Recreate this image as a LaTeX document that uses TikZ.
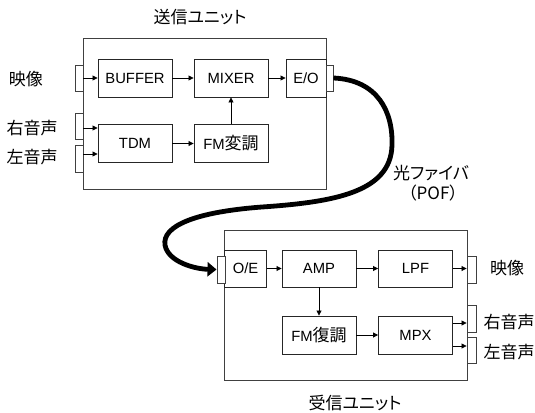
\documentclass[tikz,border=0pt]{standalone}
\usepackage{fontspec}
\setmainfont{Liberation Sans}
\newfontfamily\jp[RawFeature=+palt]{Noto Sans CJK JP}
\usetikzlibrary{arrows.meta,calc}
\newcommand\jpt[1]{{\jp\fontsize{17}{19}\selectfont #1}}
\tikzset{
  unitbox/.style={draw=black!75, line width=0.9pt, inner sep=0pt},
  blockbox/.style={draw=black!85, line width=0.9pt, minimum width=74pt, minimum height=38pt, inner sep=0pt, font=\fontsize{14.8}{16}\selectfont},
  jack/.style={draw=black!75, fill=white, line width=0.9pt, minimum width=8pt, minimum height=26pt, inner sep=0pt},
  lbl/.style={font=\jp\fontsize{17}{19}\selectfont, inner sep=0pt},
  sig/.style={draw=black, line width=0.8pt, -{Triangle[length=5pt,width=5pt]}},
  fiber/.style={draw=black, line width=4.8pt, -{Triangle[length=9pt,width=14pt]}},
}
\begin{document}
\begin{tikzpicture}[x=1pt,y=-1pt]
\useasboundingbox (0,0) rectangle (535,412);

% ---- transmitter unit ----
\node[unitbox, minimum width=243pt, minimum height=151pt] (tx) at (204.5,113.5) {};
\node[lbl] (txtitle) at (200,17) {送信ユニット};

\node[blockbox] (buf) at (135,78) {BUFFER};
\node[blockbox] (mix) at (231,78) {MIXER};
\node[blockbox, minimum width=40pt] (eo) at (306,78) {E/O};
\node[blockbox] (tdm) at (135,143.5) {TDM};
\node[blockbox] (fmmod) at (231,143.5) {FM\jpt{変調}};

\node[jack] (vin) at (79,78) {};
\node[jack, minimum width=7pt] (eoj) at (329.5,78) {};
\node[jack] (rin) at (79,126) {};
\node[jack, minimum height=27pt] (lin) at (79,158.5) {};

\node[lbl] (vinl) at (26,79) {映像};
\node[lbl] (rinl) at (32,128) {右音声};
\node[lbl] (linl) at (32,157) {左音声};

\draw[sig] (vin.east) -- (buf.west);
\draw[sig] (buf.east) -- (mix.west);
\draw[sig] (mix.east) -- (eo.west);
\draw[sig] ($(rin.east)+(0,2)$) -- ($(tdm.west)+(0,-15.5)$);
\draw[sig] ($(lin.east)+(0,-4.5)$) -- ($(tdm.west)+(0,10.5)$);
\draw[sig] (tdm.east) -- (fmmod.west);
\draw[sig] (fmmod.north) -- (mix.south);

% ---- receiver unit ----
\node[unitbox, minimum width=243pt, minimum height=150pt] (rx) at (345.5,305) {};
\node[lbl] (rxtitle) at (355,403) {受信ユニット};

\node[blockbox, minimum width=42pt, minimum height=37pt] (oe) at (245.5,268.5) {O/E};
\node[blockbox, minimum height=37pt] (amp) at (319,268.5) {AMP};
\node[blockbox, minimum height=37pt] (lpf) at (415.5,268.5) {LPF};
\node[blockbox] (fmdem) at (319,335) {FM\jpt{復調}};
\node[blockbox] (mpx) at (415.5,335) {MPX};

\node[jack, minimum height=27pt] (oej) at (221,269.5) {};
\node[jack, minimum width=9pt, minimum height=27pt] (vout) at (471.5,269.5) {};
\node[jack, minimum width=9pt, minimum height=27pt] (rout) at (471.5,318.5) {};
\node[jack, minimum width=9pt, minimum height=26pt] (lout) at (471.5,350) {};

\node[lbl] (voutl) at (507,268) {映像};
\node[lbl] (routl) at (509,322) {右音声};
\node[lbl] (loutl) at (509,352) {左音声};

\draw[sig] (oe.east) -- (amp.west);
\draw[sig] (amp.east) -- (lpf.west);
\draw[sig] (lpf.east) -- (lpf.east -| vout.west);
\draw[sig] (amp.south) -- (fmdem.north);
\draw[sig] (fmdem.east) -- (mpx.west);
\draw[sig] ($(mpx.east)+(0,-12)$) -- ($(rout.west)+(0,4.5)$);
\draw[sig] ($(mpx.east)+(0,11)$) -- ($(lout.west)+(0,-4)$);

% ---- optical fiber ----
\node[lbl] (fibl) at (431,173) {光ファイバ};
\node[lbl] (pofl) at (433,193) {（POF）};
\draw[fiber] (eoj.east) .. controls (378,80) and (393,112) .. (392,145)
  .. controls (391,192) and (335,202) .. (262,207)
  .. controls (195,212) and (162,226) .. (165,245)
  .. controls (168,262) and (195,269) .. (oej.west);
\end{tikzpicture}
\end{document}
